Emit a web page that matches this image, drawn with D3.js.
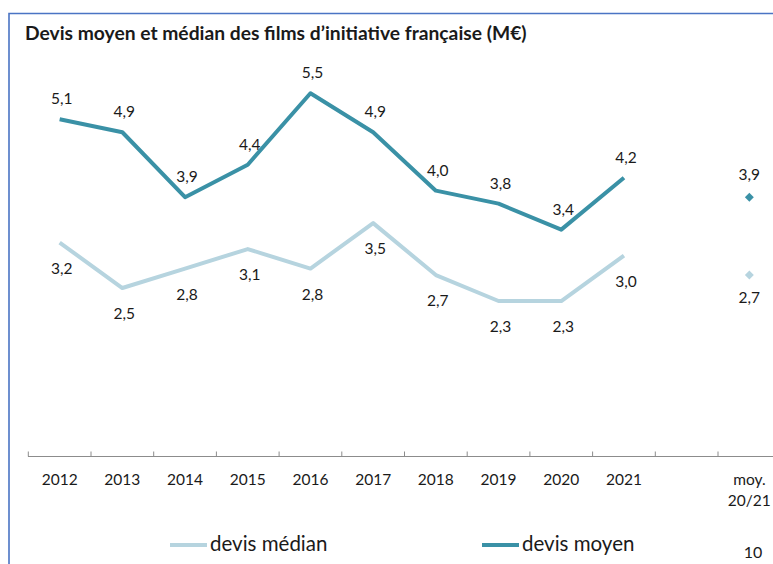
<!DOCTYPE html>
<html>
<head>
<meta charset="utf-8">
<script src="https://cdn.jsdelivr.net/npm/d3@7/dist/d3.min.js"></script>
<style>
  body { margin: 0; background: #fff; }
  svg { display: block; }
  text { font-family: Lato, "Open Sans", sans-serif; fill: #1a1a1a; }
</style>
</head>
<body>
<svg id="chart" width="773" height="564"></svg>
<script>
// ---- data ----
const categories = ["2012","2013","2014","2015","2016","2017","2018","2019","2020","2021"," ","moy. 20/21"];
const years = ["2012","2013","2014","2015","2016","2017","2018","2019","2020","2021"];
const devisMoyen  = [5.1, 4.9, 3.9, 4.4, 5.5, 4.9, 4.0, 3.8, 3.4, 4.2];
const devisMedian = [3.2, 2.5, 2.8, 3.1, 2.8, 3.5, 2.7, 2.3, 2.3, 3.0];
const moyCategory = "moy. 20/21";
const moyMoyen = 3.9;
const moyMedian = 2.7;
const seriesNames = ["devis médian", "devis moyen"];
const title = "Devis moyen et médian des films d’initiative française (M€)";
const pageNumber = "10";

// ---- styles ----
const colMoyen = "#3a91a6";
const colMedian = "#b6d4df";
const fmt = v => d3.format(".1f")(v).replace(".", ",");

const svg = d3.select("#chart");

// border
svg.append("path")
  .attr("d", "M9,564 V13.5 H773")
  .attr("fill", "none").attr("stroke", "#4a74c4").attr("stroke-width", 1.6);

// title
const t = svg.append("text").attr("x", 25).attr("y", 39.5)
  .attr("font-weight", "bold").attr("font-size", 15).text(title);
const tw = t.node().getComputedTextLength();
t.attr("font-size", 15 * 502 / tw);

// scales
const x = d3.scaleBand().domain(categories).range([28.3, 780.7]).padding(0);
const y = d3.scaleLinear().domain([0, 5.5]).range([450.3, 93.3]);
const cx = c => x(c) + x.bandwidth() / 2;
const axisY = 456.5;

// axis
const axisG = svg.append("g").attr("transform", `translate(0,${axisY})`);
axisG.call(d3.axisBottom(x).tickSize(0).tickPadding(0).tickFormat(() => ""));
axisG.select(".domain").remove();
axisG.append("line").attr("x1", 28).attr("x2", 773).attr("y1", 0).attr("y2", 0)
  .attr("stroke", "#8c8c8c").attr("stroke-width", 1);
axisG.selectAll(".edge").data(categories.concat(["__end"])).join("line")
  .attr("class", "edge")
  .attr("x1", (d, i) => i < categories.length ? x(d) : x(categories[categories.length-1]) + x.bandwidth())
  .attr("x2", (d, i) => i < categories.length ? x(d) : x(categories[categories.length-1]) + x.bandwidth())
  .attr("y1", -5).attr("y2", 0)
  .attr("stroke", "#8c8c8c").attr("stroke-width", 1);
axisG.selectAll(".tick text").remove();
axisG.selectAll(".tick").each(function(d) {
  const g = d3.select(this);
  const parts = d.split(" ");
  const tx = g.append("text").attr("text-anchor", "middle").attr("font-size", 15.5);
  parts.forEach((p, i) => tx.append("tspan").attr("x", 0).attr("y", 28.5 + i * 21).text(p));
});

// lines
const line = d3.line().x((d, i) => cx(years[i])).y(d => y(d));
svg.append("path").datum(devisMedian).attr("d", line)
  .attr("fill", "none").attr("stroke", colMedian).attr("stroke-width", 4).attr("stroke-linejoin", "round");
svg.append("path").datum(devisMoyen).attr("d", line)
  .attr("fill", "none").attr("stroke", colMoyen).attr("stroke-width", 4).attr("stroke-linejoin", "round");

// moy markers
const diamond = d3.symbol(d3.symbolSquare, 40);
svg.append("path").attr("d", diamond())
  .attr("transform", `translate(${cx(moyCategory)},${y(moyMoyen)}) rotate(45)`).attr("fill", colMoyen);
svg.append("path").attr("d", diamond())
  .attr("transform", `translate(${cx(moyCategory)},${y(moyMedian)}) rotate(45)`).attr("fill", colMedian);

// data labels
const lblSize = 15.5;
svg.selectAll(".lblMoyen").data(devisMoyen).join("text")
  .attr("class", "lblMoyen").attr("text-anchor", "middle").attr("font-size", lblSize)
  .attr("x", (d, i) => cx(years[i]) + 2).attr("y", d => y(d) - 15).text(fmt);
svg.selectAll(".lblMedian").data(devisMedian).join("text")
  .attr("class", "lblMedian").attr("text-anchor", "middle").attr("font-size", lblSize)
  .attr("x", (d, i) => cx(years[i]) + 2).attr("y", d => y(d) + 31).text(fmt);
svg.append("text").attr("text-anchor", "middle").attr("font-size", lblSize)
  .attr("x", cx(moyCategory)).attr("y", y(moyMoyen) - 17).text(fmt(moyMoyen));
svg.append("text").attr("text-anchor", "middle").attr("font-size", lblSize)
  .attr("x", cx(moyCategory)).attr("y", y(moyMedian) + 28).text(fmt(moyMedian));

// legend
const legend = [
  { name: seriesNames[0], color: colMedian, x: 170 },
  { name: seriesNames[1], color: colMoyen, x: 482 }
];
legend.forEach(l => {
  svg.append("line").attr("x1", l.x).attr("x2", l.x + 37).attr("y1", 545).attr("y2", 545)
    .attr("stroke", l.color).attr("stroke-width", 4);
  svg.append("text").attr("x", l.x + 40).attr("y", 550.5).attr("font-size", 20.5).text(l.name);
});

// page number
svg.append("text").attr("x", 753).attr("y", 558).attr("text-anchor", "middle")
  .attr("font-size", 16).text(pageNumber);
</script>
</body>
</html>
